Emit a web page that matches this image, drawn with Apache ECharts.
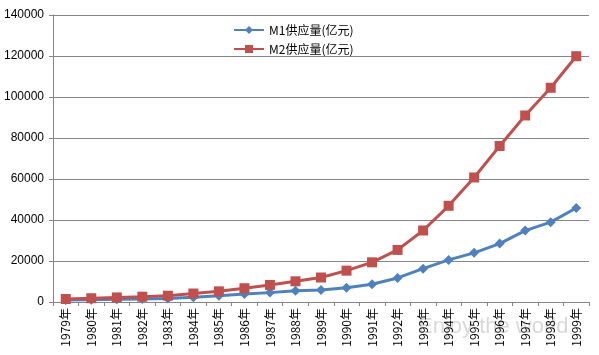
<!DOCTYPE html>
<html><head><meta charset="utf-8">
<script src="https://cdn.jsdelivr.net/npm/echarts@6/dist/echarts.min.js"></script>
<style>html,body{margin:0;padding:0;background:#fff}#c{width:599px;height:355px}</style>
</head><body><div id="c"></div>
<script>
const years = ['1979年','1980年','1981年','1982年','1983年','1984年','1985年','1986年','1987年','1988年','1989年','1990年','1991年','1992年','1993年','1994年','1995年','1996年','1997年','1998年','1999年'];
const m1 = [921,1150,1345,1493,1757,2341,3011,3860,4574,5487,5834,6951,8633,11732,16280,20541,23987,28515,34826,38954,45837];
const m2 = [1458,1843,2234,2590,3075,4146,5199,6721,8331,10100,11950,15293,19350,25402,34880,46924,60751,76095,90995,104499,119898];
const yTicks = {min:0,max:140000,interval:20000};
const seriesNames = ['M1供应量(亿元)','M2供应量(亿元)'];
const chart = echarts.init(document.getElementById('c'));
const font = '"Noto Sans CJK SC", "Liberation Sans", sans-serif';
chart.setOption({
  animation:false,
  grid:{left:53,right:10,top:15,bottom:53},
  legend:{orient:'vertical',left:228,top:19,itemGap:7,itemWidth:30,itemHeight:10,
    textStyle:{fontFamily:font,fontSize:12,color:'#000'},
    data:seriesNames},
  xAxis:{type:'category',data:years,boundaryGap:true,
    axisLine:{lineStyle:{color:'#868686'}},
    axisTick:{show:true,interval:0,length:4,lineStyle:{color:'#868686'}},
    axisLabel:{rotate:90,interval:0,fontFamily:font,fontSize:12,color:'#000',margin:6}},
  yAxis:{type:'value',min:yTicks.min,max:yTicks.max,interval:yTicks.interval,
    axisLine:{show:true,lineStyle:{color:'#868686'}},
    axisTick:{show:true,length:4,lineStyle:{color:'#868686'}},
    splitLine:{lineStyle:{color:'#868686',width:1}},
    axisLabel:{fontFamily:'"Liberation Sans", sans-serif',fontSize:12,color:'#000',margin:9,
      formatter:v=>String(v)}},
  series:[
    {name:seriesNames[0],type:'line',data:m1,symbol:'diamond',symbolSize:10,
      lineStyle:{width:3,color:'#4F81BD'},itemStyle:{color:'#4F81BD'}},
    {name:seriesNames[1],type:'line',data:m2,symbol:'rect',symbolSize:10,
      lineStyle:{width:3,color:'#C0504D'},itemStyle:{color:'#C0504D'}}
  ],
  graphic:[{type:'text',left:418,top:316,style:{text:'Enjoy the world',fontFamily:'"Liberation Sans", sans-serif',fontSize:22,fill:'rgba(170,170,170,0.45)'}}]
});
</script></body></html>
